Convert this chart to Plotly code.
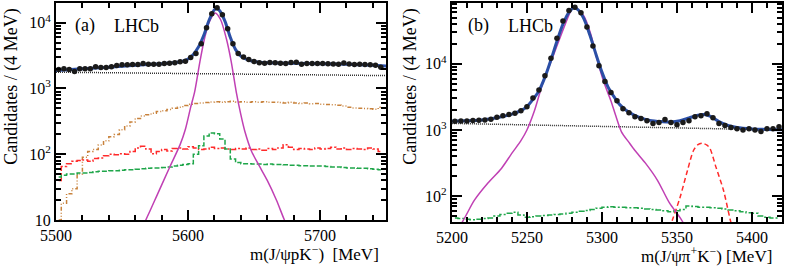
import plotly.graph_objects as go

# ---------------- Panel (a): m(J/psi p K-) ----------------
a_bins = [5502 + 4 * i for i in range(62)]
a_data = [1940, 2000, 1940, 1810, 2000, 1990, 2000, 2150, 2080, 2080,
          2150, 2230, 2300, 2300, 2310, 2310, 2400, 2330, 2330, 2330,
          2400, 2420, 2470, 2550, 2600, 2950, 3400, 4800, 8400, 13700,
          16900, 13200, 8100, 4800, 3400, 3000, 2760, 2570, 2470, 2420,
          2480, 2470, 2420, 2400, 2480, 2500, 2330, 2400, 2400, 2400,
          2400, 2380, 2350, 2330, 2450, 2350, 2320, 2340, 2310, 2290,
          2250, 2100]
a_fit_x = [5500, 5520, 5540, 5560, 5580, 5590, 5596, 5600, 5604, 5608, 5612,
           5616, 5620, 5622, 5624, 5628, 5632, 5636, 5640, 5644, 5650, 5660,
           5680, 5700, 5720, 5740, 5750]
a_fit_y = [1880, 1990, 2100, 2250, 2380, 2480, 2600, 2800, 3300, 4300, 6500,
           11000, 15800, 16300, 15200, 10500, 6000, 3900, 3100, 2800, 2580,
           2470, 2420, 2380, 2330, 2250, 2200]
a_sig_x = [5560, 5568, 5577, 5586, 5594, 5598, 5602, 5605, 5609, 5612.5, 5616,
           5620.6, 5624.6, 5629, 5632.7, 5636.5, 5640, 5643, 5648, 5653, 5660,
           5667, 5673, 5680]
a_sig_y = [5, 10, 25, 63, 140, 240, 520, 890, 2570, 5750, 10200, 14100, 11200,
           5750, 2570, 890, 400, 224, 112, 72, 40, 20, 10, 5]
a_comb_x = [5500, 5750]
a_comb_y = [1770, 1570]
a_brown = [10, 18, 25, 30, 50, 90, 110, 118, 138, 160, 185, 200, 235, 270,
           310, 350, 380, 400, 420, 445, 460, 480, 500, 520, 550, 575, 590,
           600, 610, 625, 630, 620, 630, 640, 625, 630, 620, 630, 620, 630,
           615, 620, 610, 600, 615, 600, 590, 600, 585, 590, 575, 570, 565,
           555, 540, 520, 505, 500, 495, 490, 485, 520]
a_red = [40, 65, 72, 78, 80, 82, 78, 86, 88, 95, 100, 98, 102, 100, 110, 125,
         132, 120, 102, 110, 118, 112, 122, 125, 120, 130, 125, 118, 120, 128,
         122, 125, 120, 118, 122, 120, 125, 118, 120, 115, 122, 118, 125, 140,
         128, 118, 122, 120, 118, 125, 120, 122, 128, 120, 125, 118, 122, 120,
         118, 125, 120, 110]
a_green = [45, 48, 50, 50, 52, 52, 53, 54, 55, 55, 56, 56, 57, 58, 58, 59, 60,
           61, 62, 62, 63, 64, 66, 68, 70, 72, 100, 135, 190, 210, 205, 170,
           120, 85, 75, 72, 72, 71, 71, 70, 71, 70, 70, 69, 68, 68, 67, 67, 66,
           66, 66, 65, 64, 64, 63, 62, 62, 61, 61, 60, 59, 58]

# ---------------- Panel (b): m(J/psi pi+ K-) ----------------
b_bins = [5202 + 4 * i for i in range(55)]
b_data = [1360, 1370, 1370, 1390, 1410, 1420, 1450, 1560, 1650, 1710,
          1790, 1960, 2250, 3050, 4030, 6600, 12200, 24300, 44400, 64300,
          71900, 59000, 36000, 18600, 9330, 5420, 3700, 2770, 2100, 1830,
          1590, 1490, 1380, 1250, 1300, 1440, 1300, 1200, 1300, 1380,
          1590, 1650, 1770, 1540, 1250, 1170, 1090, 1050, 1000, 1050,
          1000, 950, 1050, 1050, 1120]
b_fit_x = [5200, 5220, 5230, 5240, 5246, 5250, 5254, 5258, 5262, 5266, 5270,
           5274, 5278, 5281, 5284, 5288, 5292, 5296, 5300, 5304, 5308, 5312,
           5318, 5325, 5332, 5340, 5346, 5352, 5358, 5364, 5368, 5372, 5378,
           5384, 5390, 5400, 5410, 5420]
b_fit_y = [1370, 1420, 1530, 1740, 1960, 2250, 2900, 3900, 6300, 11500, 22000,
           40000, 60000, 70000, 66000, 48000, 27000, 14000, 7500, 4500, 3200,
           2400, 1850, 1550, 1400, 1340, 1320, 1380, 1520, 1680, 1720, 1620,
           1340, 1170, 1090, 1040, 1020, 1010]
b_sig_x = [5200, 5207, 5215, 5224, 5233, 5240, 5246, 5250, 5255, 5261, 5268,
           5274.5, 5280, 5282, 5288, 5292.5, 5296.5, 5301, 5306, 5309, 5313,
           5318, 5322, 5329, 5337, 5345, 5353, 5360]
b_sig_y = [25, 41, 87, 158, 263, 447, 690, 1000, 1950, 5500, 14100, 34700,
           67600, 72000, 52500, 28200, 12300, 5500, 2750, 1700, 940, 650, 490,
           316, 174, 79, 44, 22]
b_comb_x = [5200, 5420]
b_comb_y = [1260, 1000]
b_bs_x = [5343, 5347, 5352, 5357, 5361, 5364, 5367, 5370, 5372, 5376, 5381,
          5385.5, 5390]
b_bs_y = [25, 44, 95, 245, 490, 600, 630, 590, 525, 275, 123, 44, 18]
b_green = [47, 46, 45, 44, 45, 46, 47, 50, 53, 55, 57, 52, 48, 49, 50, 51, 52,
           53, 54, 55, 57, 59, 61, 63, 66, 68, 69, 68, 68, 67, 67, 66, 64, 63,
           62, 60, 58, 60, 63, 71, 70, 68, 68, 67, 66, 64, 62, 60, 58, 56, 55,
           50, 48, 47, 47]

BLUE = "#2b4fa6"
MAG = "#c040b4"
BROWN = "#c8823c"
RED = "#ff2a2a"
GREEN = "#1fa64a"
FONT = "Liberation Serif, Times New Roman, serif"

fig = go.Figure()


def add(x, y, xa, ya, **kw):
    fig.add_trace(go.Scatter(x=x, y=y, xaxis=xa, yaxis=ya, showlegend=False,
                             hoverinfo="skip", **kw))


# panel a
add(a_bins, a_brown, "x", "y", mode="lines", line=dict(color=BROWN, width=1.5, dash="4px,2px,1px,2px,1px,2px", shape="hvh"))
add(a_bins, a_red, "x", "y", mode="lines", line=dict(color=RED, width=1.5, dash="6px,2px,2px,2px", shape="hvh"))
add(a_bins, a_green, "x", "y", mode="lines", line=dict(color=GREEN, width=1.5, dash="5px,2px", shape="hvh"))
add(a_comb_x, a_comb_y, "x", "y", mode="lines", line=dict(color="#333333", width=1.5, dash="1px,1px"))
add(a_sig_x, a_sig_y, "x", "y", mode="lines", line=dict(color=MAG, width=1.5, shape="spline", smoothing=0.8))
add(a_fit_x, a_fit_y, "x", "y", mode="lines", line=dict(color=BLUE, width=3, shape="spline", smoothing=0.8))
add(a_bins, a_data, "x", "y", mode="markers", marker=dict(color="#1a1a1a", size=5.5))

# panel b
add(b_bins, b_green, "x2", "y2", mode="lines", line=dict(color=GREEN, width=1.5, dash="6px,2px,2px,2px", shape="hvh"))
add(b_bs_x, b_bs_y, "x2", "y2", mode="lines", line=dict(color=RED, width=1.5, dash="5px,3px", shape="spline", smoothing=0.8))
add(b_comb_x, b_comb_y, "x2", "y2", mode="lines", line=dict(color="#333333", width=1.5, dash="1px,1px"))
add(b_sig_x, b_sig_y, "x2", "y2", mode="lines", line=dict(color=MAG, width=1.5, shape="spline", smoothing=0.8))
add(b_fit_x, b_fit_y, "x2", "y2", mode="lines", line=dict(color=BLUE, width=3, shape="spline", smoothing=0.8))
add(b_bins, b_data, "x2", "y2", mode="markers", marker=dict(color="#1a1a1a", size=5.5))

W, H = 785, 267
ML, MR, MT, MB = 56, 1, 2, 45
PW = W - ML - MR
PH = H - MT - MB


def px(xp):
    return (xp - ML) / PW


def py(yp):
    return (H - MB - yp) / PH


minor_y = [m * 10 ** e for e in range(0, 6) for m in range(2, 10)]

axis_common = dict(showline=True, linewidth=2, linecolor="black", mirror="ticks",
                   ticks="inside", tickwidth=1.5, tickcolor="black", showgrid=False,
                   zeroline=False, tickfont=dict(family=FONT, size=16, color="black"))

fig.update_layout(
    width=W, height=H, margin=dict(l=ML, r=MR, t=MT, b=MB),
    paper_bgcolor="white", plot_bgcolor="white",
    font=dict(family=FONT, color="black"),
    xaxis=dict(domain=[0, px(387)], range=[5500, 5750], anchor="y",
               tickvals=[5500, 5600, 5700], ticklen=10,
               minor=dict(tickvals=list(range(5500, 5751, 20)), ticks="inside", ticklen=5,
                          tickwidth=1.5, tickcolor="black"),
               **axis_common),
    yaxis=dict(domain=[py(220), 1], type="log", range=[1, 4.30], anchor="x",
               tickvals=[10, 100, 1000, 10000],
               ticktext=["10", "10<sup>2</sup>", "10<sup>3</sup>", "10<sup>4</sup>"],
               ticklen=10,
               minor=dict(tickvals=minor_y, ticks="inside", ticklen=5, tickwidth=1.5,
                          tickcolor="black"),
               **axis_common),
    xaxis2=dict(domain=[px(453), 1], range=[5200, 5420], anchor="y2",
                tickvals=[5200, 5250, 5300, 5350, 5400], ticklen=10,
                minor=dict(tickvals=list(range(5200, 5421, 10)), ticks="inside", ticklen=5,
                           tickwidth=1.5, tickcolor="black"),
                **axis_common),
    yaxis2=dict(domain=[0, 1], type="log", range=[1.61, 4.92], anchor="x2",
                tickvals=[100, 1000, 10000],
                ticktext=["10<sup>2</sup>", "10<sup>3</sup>", "10<sup>4</sup>"],
                ticklen=10,
                minor=dict(tickvals=minor_y, ticks="inside", ticklen=5, tickwidth=1.5,
                           tickcolor="black"),
                **axis_common),
)

tf = dict(family=FONT, size=17, color="black")
ann = [
    dict(text="(a)", x=px(73), y=py(25), xanchor="left", yanchor="middle", font=dict(family=FONT, size=18)),
    dict(text="LHCb", x=px(112), y=py(25), xanchor="left", yanchor="middle", font=dict(family=FONT, size=18)),
    dict(text="(b)", x=px(467), y=py(25), xanchor="left", yanchor="middle", font=dict(family=FONT, size=18)),
    dict(text="LHCb", x=px(507), y=py(25), xanchor="left", yanchor="middle", font=dict(family=FONT, size=18)),
    dict(text="m(J/ψpK<sup>−</sup>)\u00a0\u00a0[MeV]", x=px(315), y=py(253), xanchor="center",
         yanchor="middle", font=tf),
    dict(text="m(J/ψπ<sup>+</sup>K<sup>−</sup>) [MeV]", x=px(708), y=py(255), xanchor="center",
         yanchor="middle", font=tf),
    dict(text="Candidates / (4 MeV)", x=px(11), y=py(86), xanchor="center", yanchor="middle",
         textangle=-90, font=dict(family=FONT, size=18)),
    dict(text="Candidates / (4 MeV)", x=px(412), y=py(86), xanchor="center", yanchor="middle",
         textangle=-90, font=dict(family=FONT, size=18)),
]
for a in ann:
    a.update(xref="paper", yref="paper", showarrow=False)
    a["font"].setdefault("color", "black")
fig.update_layout(annotations=ann)

fig.write_html("out.html", config={"displayModeBar": False},
               post_script="document.body.style.margin='0px';")
